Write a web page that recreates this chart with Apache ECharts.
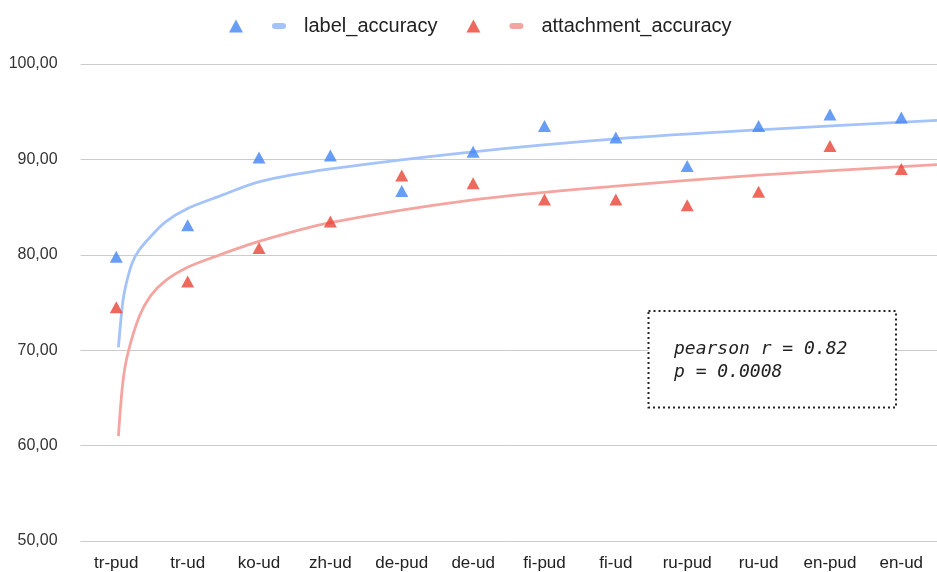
<!DOCTYPE html>
<html>
<head>
<meta charset="utf-8">
<title>label_accuracy / attachment_accuracy</title>
<script src="https://cdn.jsdelivr.net/npm/echarts@6/dist/echarts.min.js"></script>
<style>
  html, body { margin: 0; padding: 0; background: #fff; }
  #chart { width: 937px; height: 572px; }
</style>
</head>
<body>
<div id="chart"></div>
<script>
// Treebanks on the x axis
const treebanks = ['tr-pud', 'tr-ud', 'ko-ud', 'zh-ud', 'de-pud', 'de-ud',
                   'fi-pud', 'fi-ud', 'ru-pud', 'ru-ud', 'en-pud', 'en-ud'];

// Scores per treebank
const labelAccuracy      = [79.8, 83.1, 90.2, 90.4, 86.7, 90.8, 93.5, 92.3, 89.3, 93.5, 94.7, 94.4];
const attachmentAccuracy = [74.5, 77.2, 80.7, 83.5, 88.3, 87.5, 85.8, 85.8, 85.2, 86.6, 91.4, 89.0];

// Logarithmic trendlines, sampled along the treebank index (0 = tr-pud)
const labelTrendX = [0.03, 0.09, 0.14, 0.22, 0.32, 0.48, 0.69, 1, 1.43, 2, 3, 5, 7, 9, 11.5];
const labelTrendY = [70.3, 75.0, 77.0, 79.1, 80.5, 81.9, 83.45, 84.85, 86.1, 87.65, 89.0, 90.8, 92.15, 93.1, 94.1];
const attachTrendX = [0.03, 0.09, 0.16, 0.32, 0.48, 0.69, 1.0, 1.36, 2, 3, 5, 7, 9, 11.5];
const attachTrendY = [61.0, 66.5, 69.6, 73.5, 75.7, 77.3, 78.7, 79.75, 81.4, 83.36, 85.75, 87.2, 88.35, 89.45];

// Value axis ticks
const yMin = 50, yMax = 100, yStep = 10;

const blue = '#4285f4', red = '#ea4335';
const blueTrend = '#a3c3fa', redTrend = '#f5a5a0';
const lineIcon = 'path://M3,0 h8 a3,3 0 0 1 0,6 h-8 a3,3 0 0 1 0,-6 z';
const noteFont = 'italic 18px "DejaVu Sans Mono", monospace';

const zip = (xs, ys) => xs.map((x, i) => [x, ys[i]]);

const chart = echarts.init(document.getElementById('chart'), null, { renderer: 'canvas' });

chart.setOption({
  animation: false,
  backgroundColor: '#fff',
  textStyle: { fontFamily: 'Liberation Sans, Arial, sans-serif' },
  legend: {
    top: 11,
    left: 224,
    itemWidth: 14,
    itemHeight: 13,
    itemGap: 29,
    selectedMode: false,
    textStyle: { fontSize: 20, color: '#222' },
    formatter: name => (name.endsWith(' points') ? '' : name),
    data: [
      { name: 'label_accuracy points', icon: 'triangle', itemStyle: { color: blue } },
      { name: 'label_accuracy', icon: lineIcon, itemStyle: { color: blueTrend }, textStyle: { padding: [0, 0, 0, 13] } },
      { name: 'attachment_accuracy points', icon: 'triangle', itemStyle: { color: red } },
      { name: 'attachment_accuracy', icon: lineIcon, itemStyle: { color: redTrend }, textStyle: { padding: [0, 0, 0, 13] } }
    ]
  },
  grid: { left: 80.6, right: -9.3, top: 64, bottom: 31, containLabel: false },
  xAxis: [
    {
      type: 'category',
      data: treebanks,
      boundaryGap: true,
      axisLine: { show: false },
      axisTick: { show: false },
      splitLine: { show: false },
      axisLabel: { fontSize: 17, color: '#222', margin: 14 }
    },
    {
      type: 'value',
      min: -0.5,
      max: 11.5,
      show: false
    }
  ],
  yAxis: {
    type: 'value',
    min: yMin,
    max: yMax,
    interval: yStep,
    axisLine: { show: false },
    axisTick: { show: false },
    splitLine: { lineStyle: { color: '#cccccc', width: 1 } },
    axisLabel: {
      fontSize: 16,
      color: '#333',
      margin: 23,
      formatter: v => v.toFixed(2).replace('.', ',')
    }
  },
  series: [
    {
      name: 'label_accuracy',
      type: 'line',
      xAxisIndex: 1,
      data: zip(labelTrendX, labelTrendY),
      smooth: 0.3,
      symbol: 'none',
      itemStyle: { color: blueTrend },
      lineStyle: { color: blueTrend, width: 2.8 },
      z: 2
    },
    {
      name: 'attachment_accuracy',
      type: 'line',
      xAxisIndex: 1,
      data: zip(attachTrendX, attachTrendY),
      smooth: 0.3,
      symbol: 'none',
      itemStyle: { color: redTrend },
      lineStyle: { color: redTrend, width: 2.8 },
      z: 2
    },
    {
      name: 'label_accuracy points',
      type: 'scatter',
      xAxisIndex: 0,
      data: labelAccuracy,
      symbol: 'triangle',
      symbolSize: [13, 12],
      itemStyle: { color: blue },
      z: 3
    },
    {
      name: 'attachment_accuracy points',
      type: 'scatter',
      xAxisIndex: 0,
      data: attachmentAccuracy,
      symbol: 'triangle',
      symbolSize: [13, 12],
      itemStyle: { color: red },
      z: 3
    }
  ],
  graphic: [
    {
      type: 'rect',
      z: 100,
      shape: { x: 648.5, y: 311, width: 247.5, height: 96.5 },
      style: { fill: '#fff', stroke: '#222', lineWidth: 2, lineDash: [2, 3] }
    },
    {
      type: 'text',
      z: 101,
      x: 674, y: 349.5,
      style: { text: 'pearson r = 0.82', font: noteFont, fill: '#222', verticalAlign: 'middle' }
    },
    {
      type: 'text',
      z: 101,
      x: 674, y: 372.5,
      style: { text: 'p = 0.0008', font: noteFont, fill: '#222', verticalAlign: 'middle' }
    }
  ]
});
</script>
</body>
</html>
